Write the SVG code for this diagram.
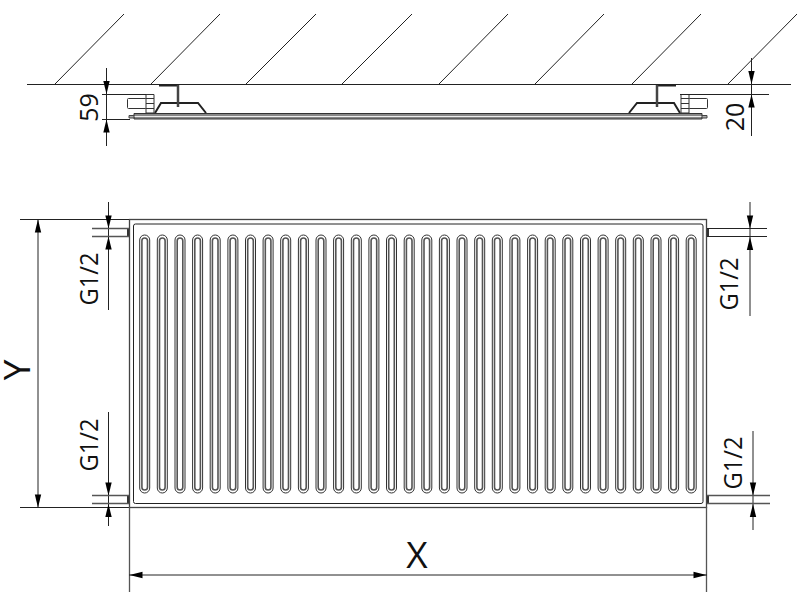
<svg xmlns="http://www.w3.org/2000/svg" xmlns:xlink="http://www.w3.org/1999/xlink" width="800" height="592" viewBox="0 0 800 592">
<style>
.l{stroke:#222;stroke-width:1;fill:none}
.g{stroke:#555;stroke-width:1.3;fill:none}
.th{stroke:#222;stroke-width:2;fill:none}
.v{stroke:#333;stroke-width:1;fill:#fff}
.t{font-family:"Open Sans","Noto Sans",sans-serif;fill:#111;text-anchor:middle}
.d{font-size:25px}
.b{font-size:37px}
</style>
<defs>
<path id="ah" d="M0 0L-3.2 -13H3.2Z" fill="#000"/>
<g id="fin">
<rect x="-5" y="235" width="10" height="258" rx="5" fill="#fff" stroke="#333" stroke-width="1"/>
<rect x="-2.8" y="238" width="5.6" height="252" rx="2.8" fill="#fff" stroke="#555" stroke-width="1.6"/>
</g>
<g id="fitting">
<rect class="v" x="127.500" y="98.500" width="19" height="10" rx="1"/>
<path class="v" d="M146 94.500H154V113H146Z"/>
<path class="v" d="M146 98.500H154M146 103.500H154M146 108.500H154" fill="none"/>
<path class="th" d="M159 85.500H178M155 113L161 103H198L206 113"/>
<path d="M178 85V107" stroke="#444" stroke-width="2.500"/>
</g>
</defs>
<g id="wall">
<path class="l" stroke-width="1.200" d="M27 84.500H791"/>
<path class="l" d="M55 84L124 14M151 84L220 14M246 84L316 14M342 84L412 14M439 84L508 14M535 84L604 14M632 84L701 14M728 84L797 14"/>
</g>
<g id="side-view">
<use href="#fitting"/>
<use href="#fitting" transform="matrix(-1 0 0 1 835 0)"/>
<path stroke="#333" stroke-width="1" fill="#888" d="M134 113.500H702V119H134Z"/>
<path stroke="#eee" stroke-width="1" fill="none" d="M134 116.500H702"/>
<path stroke="#444" stroke-width="1" fill="#aaa" d="M129 115.500H134V118H129ZM702 115.500H707V118H702Z"/>
</g>
<g id="radiator">
<rect x="129.500" y="219.500" width="577" height="288" fill="#fff" stroke="#444" stroke-width="1.300"/>
<rect x="133.500" y="224" width="569.500" height="279.500" rx="2" fill="#fff" stroke="#222" stroke-width="1"/>
<g id="fins">
<use href="#fin" x="144.700"/><use href="#fin" x="162.300"/><use href="#fin" x="180"/><use href="#fin" x="197.600"/><use href="#fin" x="215.200"/><use href="#fin" x="232.900"/><use href="#fin" x="250.500"/><use href="#fin" x="268.100"/><use href="#fin" x="285.700"/><use href="#fin" x="303.400"/><use href="#fin" x="321"/><use href="#fin" x="338.600"/><use href="#fin" x="356.300"/><use href="#fin" x="373.900"/><use href="#fin" x="391.500"/><use href="#fin" x="409.200"/><use href="#fin" x="426.800"/><use href="#fin" x="444.400"/><use href="#fin" x="462"/><use href="#fin" x="479.700"/><use href="#fin" x="497.300"/><use href="#fin" x="514.900"/><use href="#fin" x="532.600"/><use href="#fin" x="550.200"/><use href="#fin" x="567.800"/><use href="#fin" x="585.500"/><use href="#fin" x="603.100"/><use href="#fin" x="620.700"/><use href="#fin" x="638.300"/><use href="#fin" x="656"/><use href="#fin" x="673.600"/><use href="#fin" x="691.200"/>
</g>
<path d="M128 228V237M128 495V504M708 228V237M708 495V504" stroke="#333" stroke-width="2"/>
</g>
<g id="connectors">
<path class="l" d="M106.500 68V146M102 94.500H146M102 119.500H130M751.500 58V136M680 94.500H769"/>
<path class="l" d="M20 219.500H129M20 507.500H129M38 219V507M108.500 202V310M108.500 412V526M750 202V316M753 431V530"/>
<path class="g" d="M92 228.500H129M92 236.500H129M92 495.500H129M92 503.500H129M707 495.500H770M707 503.500H770"/>
<path class="l" d="M707 228.500H767M707 236.500H767"/>
<path class="g" d="M129.500 507V592M706.500 507V592"/>
<path class="l" d="M129 575H707"/>
<use href="#ah" transform="translate(106.500 94)"/>
<use href="#ah" transform="translate(106.500 119.500) rotate(180)"/>
<use href="#ah" transform="translate(751.500 84)"/>
<use href="#ah" transform="translate(751.500 94.500) rotate(180)"/>
<use href="#ah" transform="translate(108.500 228.500)"/>
<use href="#ah" transform="translate(108.500 236.500) rotate(180)"/>
<use href="#ah" transform="translate(108.500 495.500)"/>
<use href="#ah" transform="translate(108.500 504) rotate(180)"/>
<use href="#ah" transform="translate(750 228.500)"/>
<use href="#ah" transform="translate(750 237) rotate(180)"/>
<use href="#ah" transform="translate(753 495.500)"/>
<use href="#ah" transform="translate(753 504) rotate(180)"/>
<use href="#ah" transform="translate(38 219.500) rotate(180)"/>
<use href="#ah" transform="translate(38 507.500)"/>
<use href="#ah" transform="translate(129.500 575) rotate(90)"/>
<use href="#ah" transform="translate(706.500 575) rotate(-90)"/>
</g>
<g id="labels">
<text class="t d" transform="translate(98 107.500) rotate(-90)">59</text>
<text class="t d" transform="translate(744 117) rotate(-90)">20</text>
<text class="t d" transform="translate(98 279) rotate(-90)" textLength="53" lengthAdjust="spacingAndGlyphs">G1/2</text>
<text class="t d" transform="translate(98 445) rotate(-90)" textLength="53" lengthAdjust="spacingAndGlyphs">G1/2</text>
<text class="t d" transform="translate(738 284) rotate(-90)" textLength="53" lengthAdjust="spacingAndGlyphs">G1/2</text>
<text class="t d" transform="translate(742 463) rotate(-90)" textLength="53" lengthAdjust="spacingAndGlyphs">G1/2</text>
<text class="t b" x="417" y="568">X</text>
<text class="t b" transform="translate(30 370) rotate(-90)">Y</text>
</g>
</svg>
